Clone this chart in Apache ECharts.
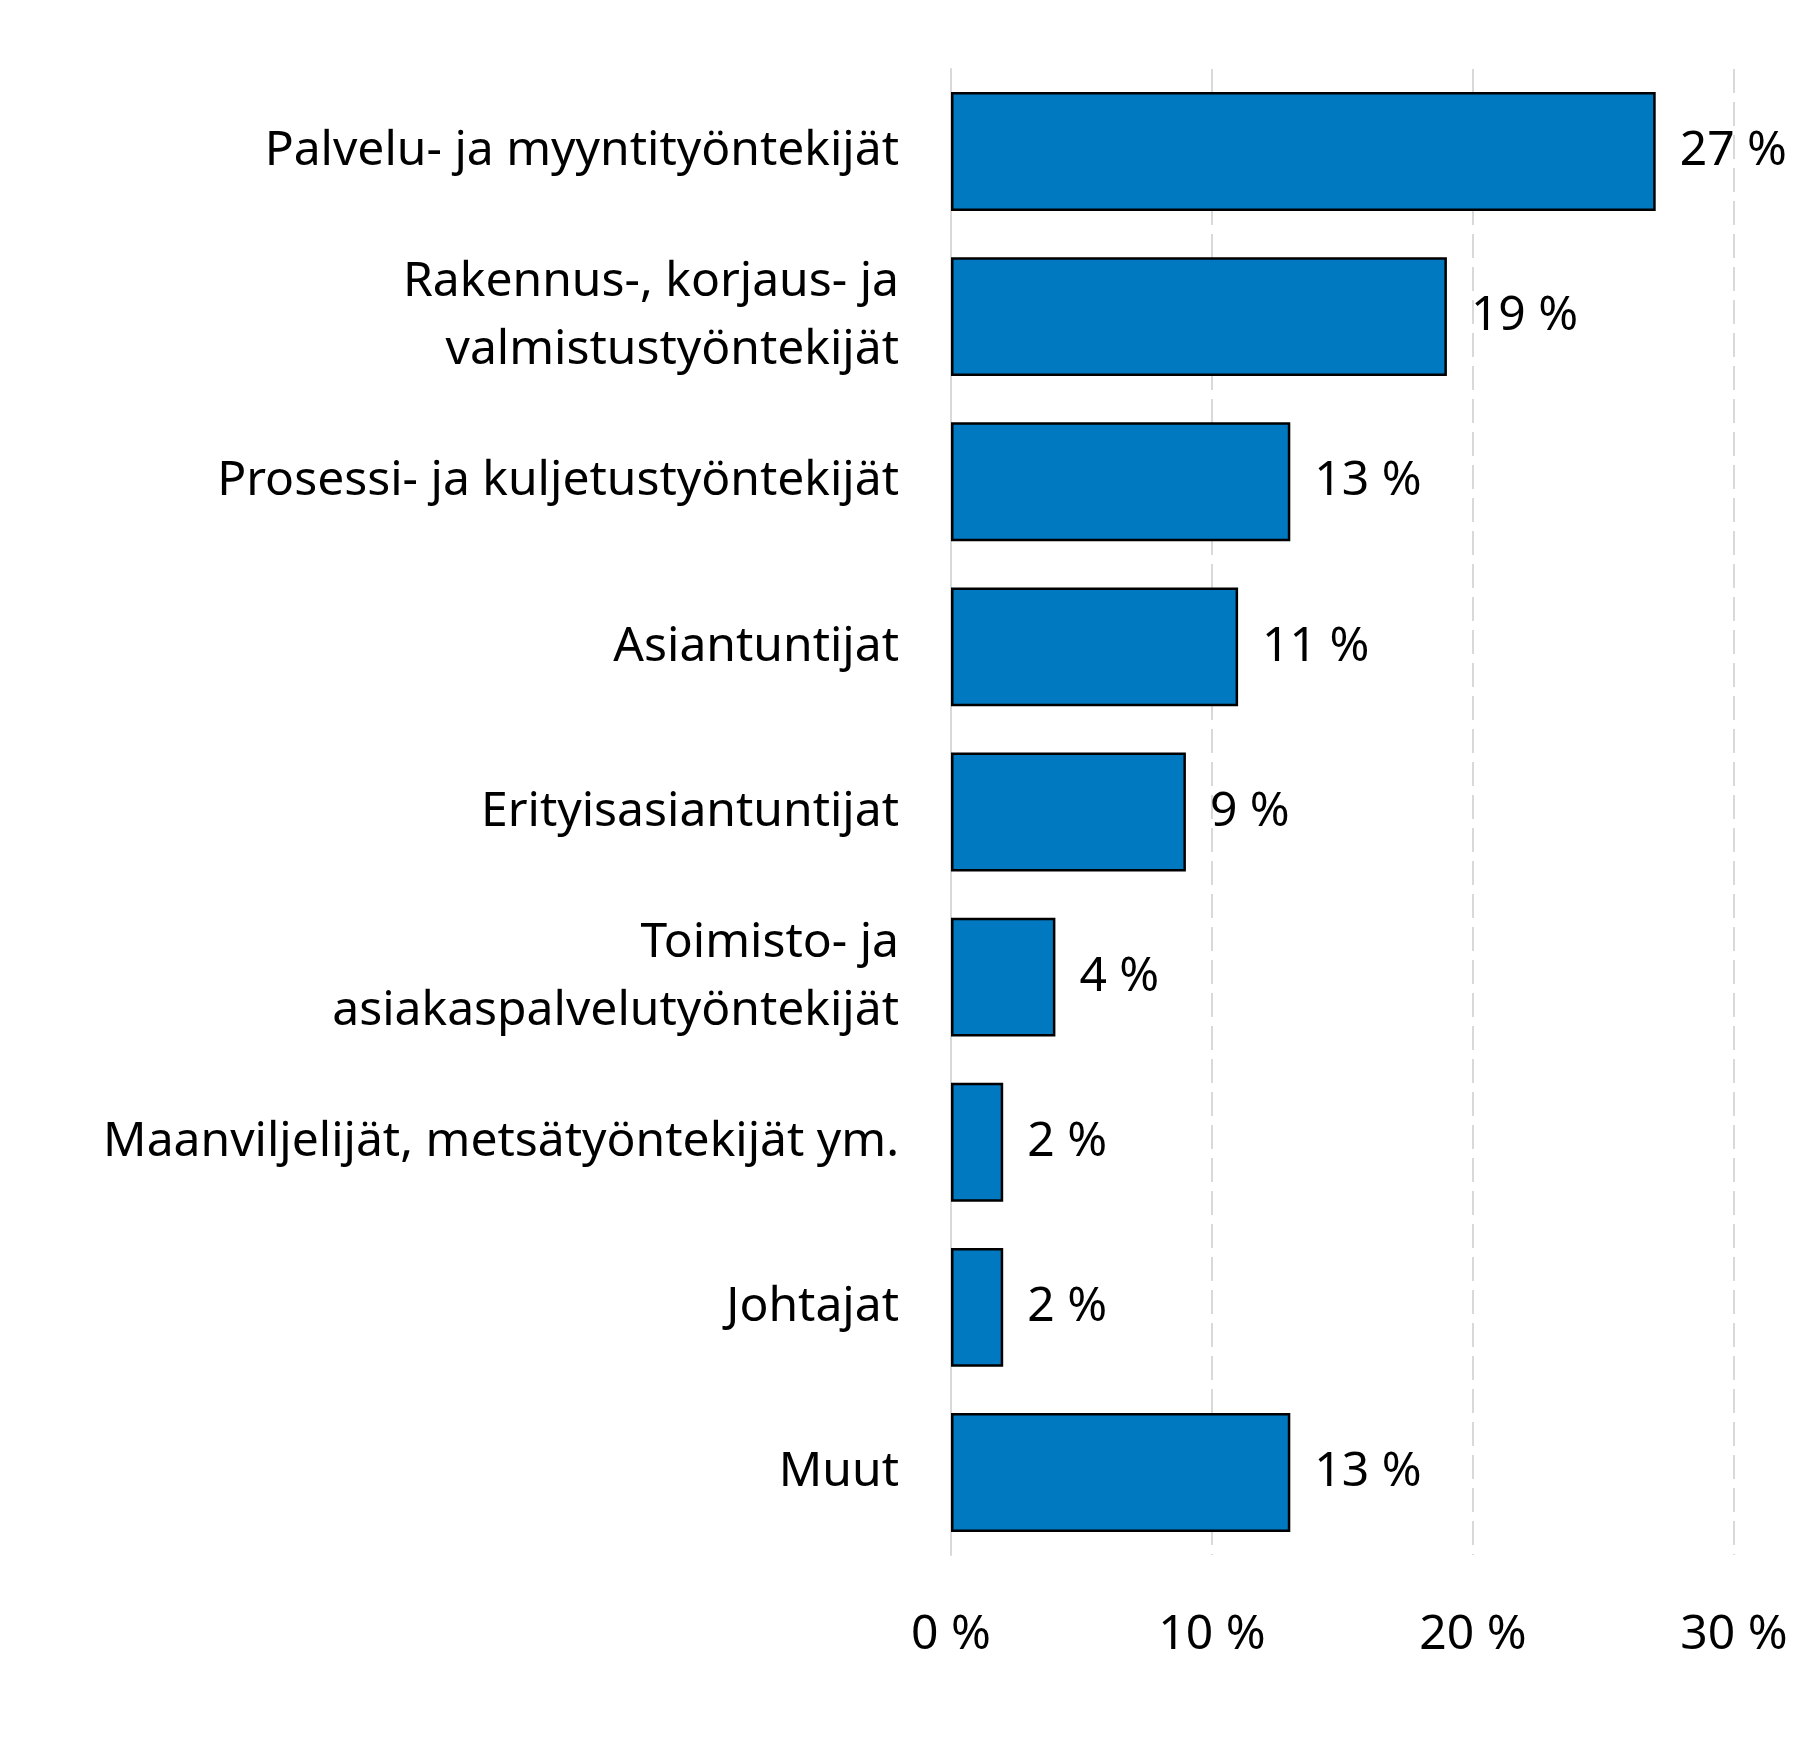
<!DOCTYPE html>
<html>
<head>
<meta charset="utf-8">
<script src="https://cdn.jsdelivr.net/npm/echarts@6/dist/echarts.min.js"></script>
<style>
  html, body { margin: 0; padding: 0; background: #fff; }
  #chart { width: 1819px; height: 1739px; }
</style>
</head>
<body>
<div id="chart"></div>
<script>
var categories = [
    'Palvelu- ja myyntityöntekijät',
    'Rakennus-, korjaus- ja\nvalmistustyöntekijät',
    'Prosessi- ja kuljetustyöntekijät',
    'Asiantuntijat',
    'Erityisasiantuntijat',
    'Toimisto- ja\nasiakaspalvelutyöntekijät',
    'Maanviljelijät, metsätyöntekijät ym.',
    'Johtajat',
    'Muut'
];
var shares = [27, 19, 13, 11, 9, 4, 2, 2, 13];
var xTicks = [0, 10, 20, 30];

var fontFamily = 'Noto Sans';
var myChart = echarts.init(document.getElementById('chart'));
var option = {
    animation: false,
    grid: {
        left: 951,
        right: 85,
        top: 69,
        bottom: 184
    },
    xAxis: {
        type: 'value',
        min: xTicks[0],
        max: xTicks[xTicks.length - 1],
        interval: 10,
        axisLine: { show: false },
        axisTick: { show: false },
        axisLabel: {
            margin: 56,
            color: '#000',
            fontFamily: fontFamily,
            fontSize: 48,
            formatter: '{value} %'
        },
        splitLine: {
            show: true,
            lineStyle: { color: '#d9d9d9', width: 2, type: [24, 9] }
        }
    },
    yAxis: {
        type: 'category',
        inverse: true,
        data: categories,
        axisLine: { show: true, lineStyle: { color: '#d9d9d9', width: 2 } },
        axisTick: { show: false },
        axisLabel: {
            margin: 52,
            color: '#000',
            fontFamily: fontFamily,
            fontSize: 48,
            lineHeight: 68,
            align: 'right'
        }
    },
    series: [{
        type: 'bar',
        data: shares,
        barWidth: '72%',
        itemStyle: {
            color: '#0079c1',
            borderColor: '#000',
            borderWidth: 2.5
        },
        label: {
            show: true,
            position: 'right',
            distance: 24,
            color: '#000',
            fontFamily: fontFamily,
            fontSize: 48,
            formatter: '{c} %'
        }
    }]
};
myChart.setOption(option);
</script>
</body>
</html>
